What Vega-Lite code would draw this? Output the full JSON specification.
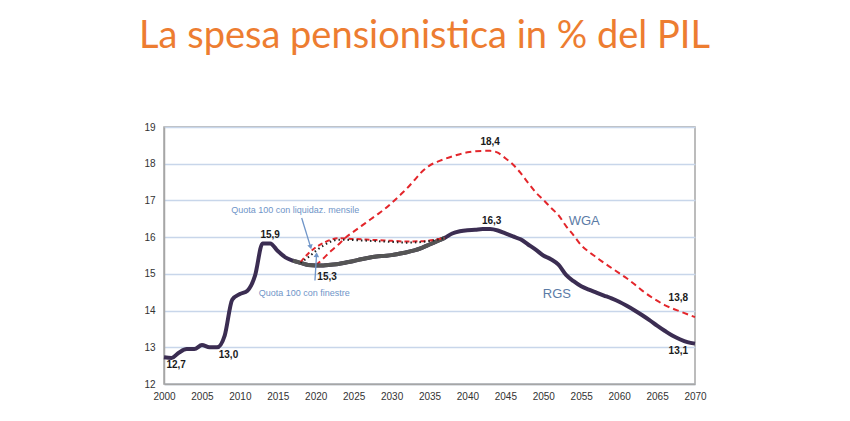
{
  "$schema": "https://vega.github.io/schema/vega-lite/v6.json",
  "width": 531,
  "height": 257,
  "autosize": "none",
  "padding": {"left": 164, "top": 127, "right": 155, "bottom": 37},
  "background": "white",
  "title": {
    "text": "La spesa pensionistica in % del PIL",
    "font": "Lato",
    "fontSize": 38,
    "fontWeight": "normal",
    "color": "#ED7D31",
    "anchor": "middle",
    "baseline": "alphabetic",
    "offset": 36,
    "dx": -5
  },
  "datasets": {
    "serie": [
      {"anno": 2000, "serie": "RGS", "valore": 12.73},
      {"anno": 2001, "serie": "RGS", "valore": 12.71},
      {"anno": 2002, "serie": "RGS", "valore": 12.86},
      {"anno": 2003, "serie": "RGS", "valore": 12.95},
      {"anno": 2004, "serie": "RGS", "valore": 12.95},
      {"anno": 2005, "serie": "RGS", "valore": 13.06},
      {"anno": 2006, "serie": "RGS", "valore": 13.0},
      {"anno": 2007, "serie": "RGS", "valore": 13.0},
      {"anno": 2008, "serie": "RGS", "valore": 13.32},
      {"anno": 2009, "serie": "RGS", "valore": 14.3},
      {"anno": 2010, "serie": "RGS", "valore": 14.45},
      {"anno": 2011, "serie": "RGS", "valore": 14.54},
      {"anno": 2012, "serie": "RGS", "valore": 14.95},
      {"anno": 2013, "serie": "RGS", "valore": 15.83},
      {"anno": 2014, "serie": "RGS", "valore": 15.83},
      {"anno": 2015, "serie": "RGS", "valore": 15.62},
      {"anno": 2016, "serie": "RGS", "valore": 15.45},
      {"anno": 2017, "serie": "RGS", "valore": 15.36},
      {"anno": 2018, "serie": "RGS", "valore": 15.3},
      {"anno": 2019, "serie": "RGS", "valore": 15.24},
      {"anno": 2020, "serie": "RGS", "valore": 15.23},
      {"anno": 2021, "serie": "RGS", "valore": 15.23},
      {"anno": 2022, "serie": "RGS", "valore": 15.25},
      {"anno": 2023, "serie": "RGS", "valore": 15.27},
      {"anno": 2024, "serie": "RGS", "valore": 15.31},
      {"anno": 2025, "serie": "RGS", "valore": 15.35},
      {"anno": 2026, "serie": "RGS", "valore": 15.4},
      {"anno": 2027, "serie": "RGS", "valore": 15.44},
      {"anno": 2028, "serie": "RGS", "valore": 15.47},
      {"anno": 2029, "serie": "RGS", "valore": 15.49},
      {"anno": 2030, "serie": "RGS", "valore": 15.51},
      {"anno": 2031, "serie": "RGS", "valore": 15.55},
      {"anno": 2032, "serie": "RGS", "valore": 15.59},
      {"anno": 2033, "serie": "RGS", "valore": 15.64},
      {"anno": 2034, "serie": "RGS", "valore": 15.71},
      {"anno": 2035, "serie": "RGS", "valore": 15.8},
      {"anno": 2036, "serie": "RGS", "valore": 15.89},
      {"anno": 2037, "serie": "RGS", "valore": 15.98},
      {"anno": 2038, "serie": "RGS", "valore": 16.1},
      {"anno": 2039, "serie": "RGS", "valore": 16.16},
      {"anno": 2040, "serie": "RGS", "valore": 16.19},
      {"anno": 2041, "serie": "RGS", "valore": 16.2},
      {"anno": 2042, "serie": "RGS", "valore": 16.22},
      {"anno": 2043, "serie": "RGS", "valore": 16.22},
      {"anno": 2044, "serie": "RGS", "valore": 16.18},
      {"anno": 2045, "serie": "RGS", "valore": 16.1},
      {"anno": 2046, "serie": "RGS", "valore": 16.02},
      {"anno": 2047, "serie": "RGS", "valore": 15.94},
      {"anno": 2048, "serie": "RGS", "valore": 15.8},
      {"anno": 2049, "serie": "RGS", "valore": 15.66},
      {"anno": 2050, "serie": "RGS", "valore": 15.5},
      {"anno": 2051, "serie": "RGS", "valore": 15.4},
      {"anno": 2052, "serie": "RGS", "valore": 15.25},
      {"anno": 2053, "serie": "RGS", "valore": 14.97},
      {"anno": 2054, "serie": "RGS", "valore": 14.8},
      {"anno": 2055, "serie": "RGS", "valore": 14.66},
      {"anno": 2056, "serie": "RGS", "valore": 14.57},
      {"anno": 2057, "serie": "RGS", "valore": 14.49},
      {"anno": 2058, "serie": "RGS", "valore": 14.41},
      {"anno": 2059, "serie": "RGS", "valore": 14.33},
      {"anno": 2060, "serie": "RGS", "valore": 14.24},
      {"anno": 2061, "serie": "RGS", "valore": 14.13},
      {"anno": 2062, "serie": "RGS", "valore": 14.01},
      {"anno": 2063, "serie": "RGS", "valore": 13.88},
      {"anno": 2064, "serie": "RGS", "valore": 13.74},
      {"anno": 2065, "serie": "RGS", "valore": 13.59},
      {"anno": 2066, "serie": "RGS", "valore": 13.45},
      {"anno": 2067, "serie": "RGS", "valore": 13.32},
      {"anno": 2068, "serie": "RGS", "valore": 13.22},
      {"anno": 2069, "serie": "RGS", "valore": 13.14},
      {"anno": 2070, "serie": "RGS", "valore": 13.1},
      {"anno": 2020, "serie": "WGA", "valore": 15.23},
      {"anno": 2021, "serie": "WGA", "valore": 15.42},
      {"anno": 2022, "serie": "WGA", "valore": 15.62},
      {"anno": 2023, "serie": "WGA", "valore": 15.8},
      {"anno": 2024, "serie": "WGA", "valore": 16.0},
      {"anno": 2025, "serie": "WGA", "valore": 16.15},
      {"anno": 2026, "serie": "WGA", "valore": 16.3},
      {"anno": 2027, "serie": "WGA", "valore": 16.45},
      {"anno": 2028, "serie": "WGA", "valore": 16.6},
      {"anno": 2029, "serie": "WGA", "valore": 16.75},
      {"anno": 2030, "serie": "WGA", "valore": 16.93},
      {"anno": 2031, "serie": "WGA", "valore": 17.12},
      {"anno": 2032, "serie": "WGA", "valore": 17.32},
      {"anno": 2033, "serie": "WGA", "valore": 17.55},
      {"anno": 2034, "serie": "WGA", "valore": 17.78},
      {"anno": 2035, "serie": "WGA", "valore": 17.95},
      {"anno": 2036, "serie": "WGA", "valore": 18.05},
      {"anno": 2037, "serie": "WGA", "valore": 18.13},
      {"anno": 2038, "serie": "WGA", "valore": 18.2},
      {"anno": 2039, "serie": "WGA", "valore": 18.26},
      {"anno": 2040, "serie": "WGA", "valore": 18.31},
      {"anno": 2041, "serie": "WGA", "valore": 18.34},
      {"anno": 2042, "serie": "WGA", "valore": 18.35},
      {"anno": 2043, "serie": "WGA", "valore": 18.35},
      {"anno": 2044, "serie": "WGA", "valore": 18.3},
      {"anno": 2045, "serie": "WGA", "valore": 18.15},
      {"anno": 2046, "serie": "WGA", "valore": 17.98},
      {"anno": 2047, "serie": "WGA", "valore": 17.75},
      {"anno": 2048, "serie": "WGA", "valore": 17.48},
      {"anno": 2049, "serie": "WGA", "valore": 17.22},
      {"anno": 2050, "serie": "WGA", "valore": 17.02},
      {"anno": 2051, "serie": "WGA", "valore": 16.8},
      {"anno": 2052, "serie": "WGA", "valore": 16.6},
      {"anno": 2053, "serie": "WGA", "valore": 16.3},
      {"anno": 2054, "serie": "WGA", "valore": 16.05},
      {"anno": 2055, "serie": "WGA", "valore": 15.78},
      {"anno": 2056, "serie": "WGA", "valore": 15.6},
      {"anno": 2057, "serie": "WGA", "valore": 15.45},
      {"anno": 2058, "serie": "WGA", "valore": 15.3},
      {"anno": 2059, "serie": "WGA", "valore": 15.16},
      {"anno": 2060, "serie": "WGA", "valore": 15.02},
      {"anno": 2061, "serie": "WGA", "valore": 14.88},
      {"anno": 2062, "serie": "WGA", "valore": 14.72},
      {"anno": 2063, "serie": "WGA", "valore": 14.55},
      {"anno": 2064, "serie": "WGA", "valore": 14.4},
      {"anno": 2065, "serie": "WGA", "valore": 14.27},
      {"anno": 2066, "serie": "WGA", "valore": 14.15},
      {"anno": 2067, "serie": "WGA", "valore": 14.06},
      {"anno": 2068, "serie": "WGA", "valore": 13.98},
      {"anno": 2069, "serie": "WGA", "valore": 13.9},
      {"anno": 2070, "serie": "WGA", "valore": 13.82},
      {"anno": 2018, "serie": "Quota 100 con finestre", "valore": 15.32},
      {"anno": 2019, "serie": "Quota 100 con finestre", "valore": 15.55},
      {"anno": 2020, "serie": "Quota 100 con finestre", "valore": 15.72},
      {"anno": 2021, "serie": "Quota 100 con finestre", "valore": 15.84},
      {"anno": 2022, "serie": "Quota 100 con finestre", "valore": 15.93},
      {"anno": 2023, "serie": "Quota 100 con finestre", "valore": 15.97},
      {"anno": 2025, "serie": "Quota 100 con finestre", "valore": 15.95},
      {"anno": 2028, "serie": "Quota 100 con finestre", "valore": 15.92},
      {"anno": 2030, "serie": "Quota 100 con finestre", "valore": 15.9},
      {"anno": 2032, "serie": "Quota 100 con finestre", "valore": 15.88},
      {"anno": 2034, "serie": "Quota 100 con finestre", "valore": 15.89},
      {"anno": 2036, "serie": "Quota 100 con finestre", "valore": 15.94},
      {"anno": 2037, "serie": "Quota 100 con finestre", "valore": 15.98},
      {"anno": 2018, "serie": "Quota 100 con liquidaz. mensile", "valore": 15.3},
      {"anno": 2019, "serie": "Quota 100 con liquidaz. mensile", "valore": 15.45},
      {"anno": 2020, "serie": "Quota 100 con liquidaz. mensile", "valore": 15.62},
      {"anno": 2021, "serie": "Quota 100 con liquidaz. mensile", "valore": 15.77},
      {"anno": 2022, "serie": "Quota 100 con liquidaz. mensile", "valore": 15.88},
      {"anno": 2023, "serie": "Quota 100 con liquidaz. mensile", "valore": 15.93},
      {"anno": 2025, "serie": "Quota 100 con liquidaz. mensile", "valore": 15.92},
      {"anno": 2028, "serie": "Quota 100 con liquidaz. mensile", "valore": 15.89},
      {"anno": 2030, "serie": "Quota 100 con liquidaz. mensile", "valore": 15.87},
      {"anno": 2032, "serie": "Quota 100 con liquidaz. mensile", "valore": 15.85},
      {"anno": 2034, "serie": "Quota 100 con liquidaz. mensile", "valore": 15.87},
      {"anno": 2036, "serie": "Quota 100 con liquidaz. mensile", "valore": 15.93},
      {"anno": 2037, "serie": "Quota 100 con liquidaz. mensile", "valore": 15.98}
    ],
    "etichette": [
      {"anno": 2001.6, "valore": 12.53, "testo": "12,7"},
      {"anno": 2008.5, "valore": 12.79, "testo": "13,0"},
      {"anno": 2014, "valore": 16.05, "testo": "15,9"},
      {"anno": 2021.5, "valore": 14.91, "testo": "15,3"},
      {"anno": 2043, "valore": 18.59, "testo": "18,4"},
      {"anno": 2043.2, "valore": 16.45, "testo": "16,3"},
      {"anno": 2067.8, "valore": 14.35, "testo": "13,8"},
      {"anno": 2067.8, "valore": 12.91, "testo": "13,1"}
    ],
    "nomi": [
      {"anno": 2055.4, "valore": 16.45, "testo": "WGA"},
      {"anno": 2051.8, "valore": 14.46, "testo": "RGS"}
    ],
    "note": [
      {"anno": 2017.3, "valore": 16.75, "testo": "Quota 100 con  liquidaz. mensile"},
      {"anno": 2018.5, "valore": 14.48, "testo": "Quota 100 con finestre"}
    ],
    "frecce": [
      {"anno": 2018.15, "valore": 16.52, "anno2": 2019.3, "valore2": 15.75},
      {"anno": 2019.9, "valore": 14.82, "anno2": 2020.1, "valore2": 15.5}
    ]
  },
  "encoding": {
    "x": {
      "field": "anno",
      "type": "quantitative",
      "scale": {"domain": [2000, 2070], "nice": false},
      "axis": {
        "values": [2000, 2005, 2010, 2015, 2020, 2025, 2030, 2035, 2040, 2045, 2050, 2055, 2060, 2065, 2070],
        "format": "d",
        "title": null,
        "grid": false,
        "ticks": false,
        "labelFlush": false,
        "labelPadding": 7
      }
    },
    "y": {
      "field": "valore",
      "type": "quantitative",
      "scale": {"domain": [12, 19], "nice": false, "zero": false},
      "axis": {
        "values": [12, 13, 14, 15, 16, 17, 18, 19],
        "title": null,
        "grid": true,
        "ticks": false,
        "labelPadding": 9
      }
    }
  },
  "layer": [
    {
      "data": {"name": "serie"},
      "transform": [{"filter": "datum.serie == 'WGA'"}],
      "mark": {"type": "line", "color": "#E3262B", "strokeWidth": 2, "strokeDash": [6, 4], "interpolate": "monotone"}
    },
    {
      "data": {"name": "serie"},
      "transform": [{"filter": "datum.serie == 'RGS'"}],
      "mark": {"type": "line", "color": "#3B2D52", "strokeWidth": 4, "interpolate": "monotone"}
    },
    {
      "data": {"name": "serie"},
      "transform": [{"filter": "datum.serie == 'RGS' && datum.anno >= 2017 && datum.anno <= 2037"}],
      "mark": {"type": "line", "color": "#555555", "strokeWidth": 4, "interpolate": "monotone"}
    },
    {
      "data": {"name": "serie"},
      "transform": [{"filter": "datum.serie == 'Quota 100 con finestre'"}],
      "mark": {"type": "line", "color": "#E3262B", "strokeWidth": 2, "strokeDash": [5, 3], "interpolate": "monotone"}
    },
    {
      "data": {"name": "serie"},
      "transform": [{"filter": "datum.serie == 'Quota 100 con liquidaz. mensile'"}],
      "mark": {"type": "line", "color": "#222222", "strokeWidth": 2, "strokeDash": [1.5, 3], "interpolate": "monotone"}
    },
    {
      "data": {"name": "frecce"},
      "mark": {"type": "rule", "color": "#6F95C8", "strokeWidth": 1.3},
      "encoding": {
        "x2": {"field": "anno2"},
        "y2": {"field": "valore2"}
      }
    },
    {
      "data": {"name": "frecce"},
      "transform": [{"filter": "datum.anno < 2019"}],
      "mark": {"type": "point", "shape": "triangle", "filled": true, "color": "#6F95C8", "size": 30, "angle": 164, "opacity": 1},
      "encoding": {
        "x": {"field": "anno2", "type": "quantitative"},
        "y": {"field": "valore2", "type": "quantitative"}
      }
    },
    {
      "data": {"name": "frecce"},
      "transform": [{"filter": "datum.anno > 2019"}],
      "mark": {"type": "point", "shape": "triangle", "filled": true, "color": "#6F95C8", "size": 30, "angle": 4, "opacity": 1},
      "encoding": {
        "x": {"field": "anno2", "type": "quantitative"},
        "y": {"field": "valore2", "type": "quantitative"}
      }
    },
    {
      "data": {"name": "etichette"},
      "mark": {"type": "text", "font": "Liberation Sans", "fontSize": 10, "fontWeight": "bold", "color": "#1a1a1a", "baseline": "middle"},
      "encoding": {"text": {"field": "testo"}}
    },
    {
      "data": {"name": "nomi"},
      "mark": {"type": "text", "font": "Liberation Sans", "fontSize": 13, "color": "#5B7BA6", "baseline": "middle"},
      "encoding": {"text": {"field": "testo"}}
    },
    {
      "data": {"name": "note"},
      "mark": {"type": "text", "font": "Liberation Sans", "fontSize": 9, "color": "#6F95C8", "baseline": "middle"},
      "encoding": {"text": {"field": "testo"}}
    }
  ],
  "config": {
    "view": {"stroke": "#A6A6A6", "strokeWidth": 1.5},
    "axis": {
      "labelFont": "Liberation Sans",
      "labelFontSize": 10,
      "labelColor": "#333333",
      "domainColor": "#A6A6A6",
      "domainWidth": 1.5,
      "gridColor": "#C8D6EA",
      "gridWidth": 1.5
    }
  }
}
